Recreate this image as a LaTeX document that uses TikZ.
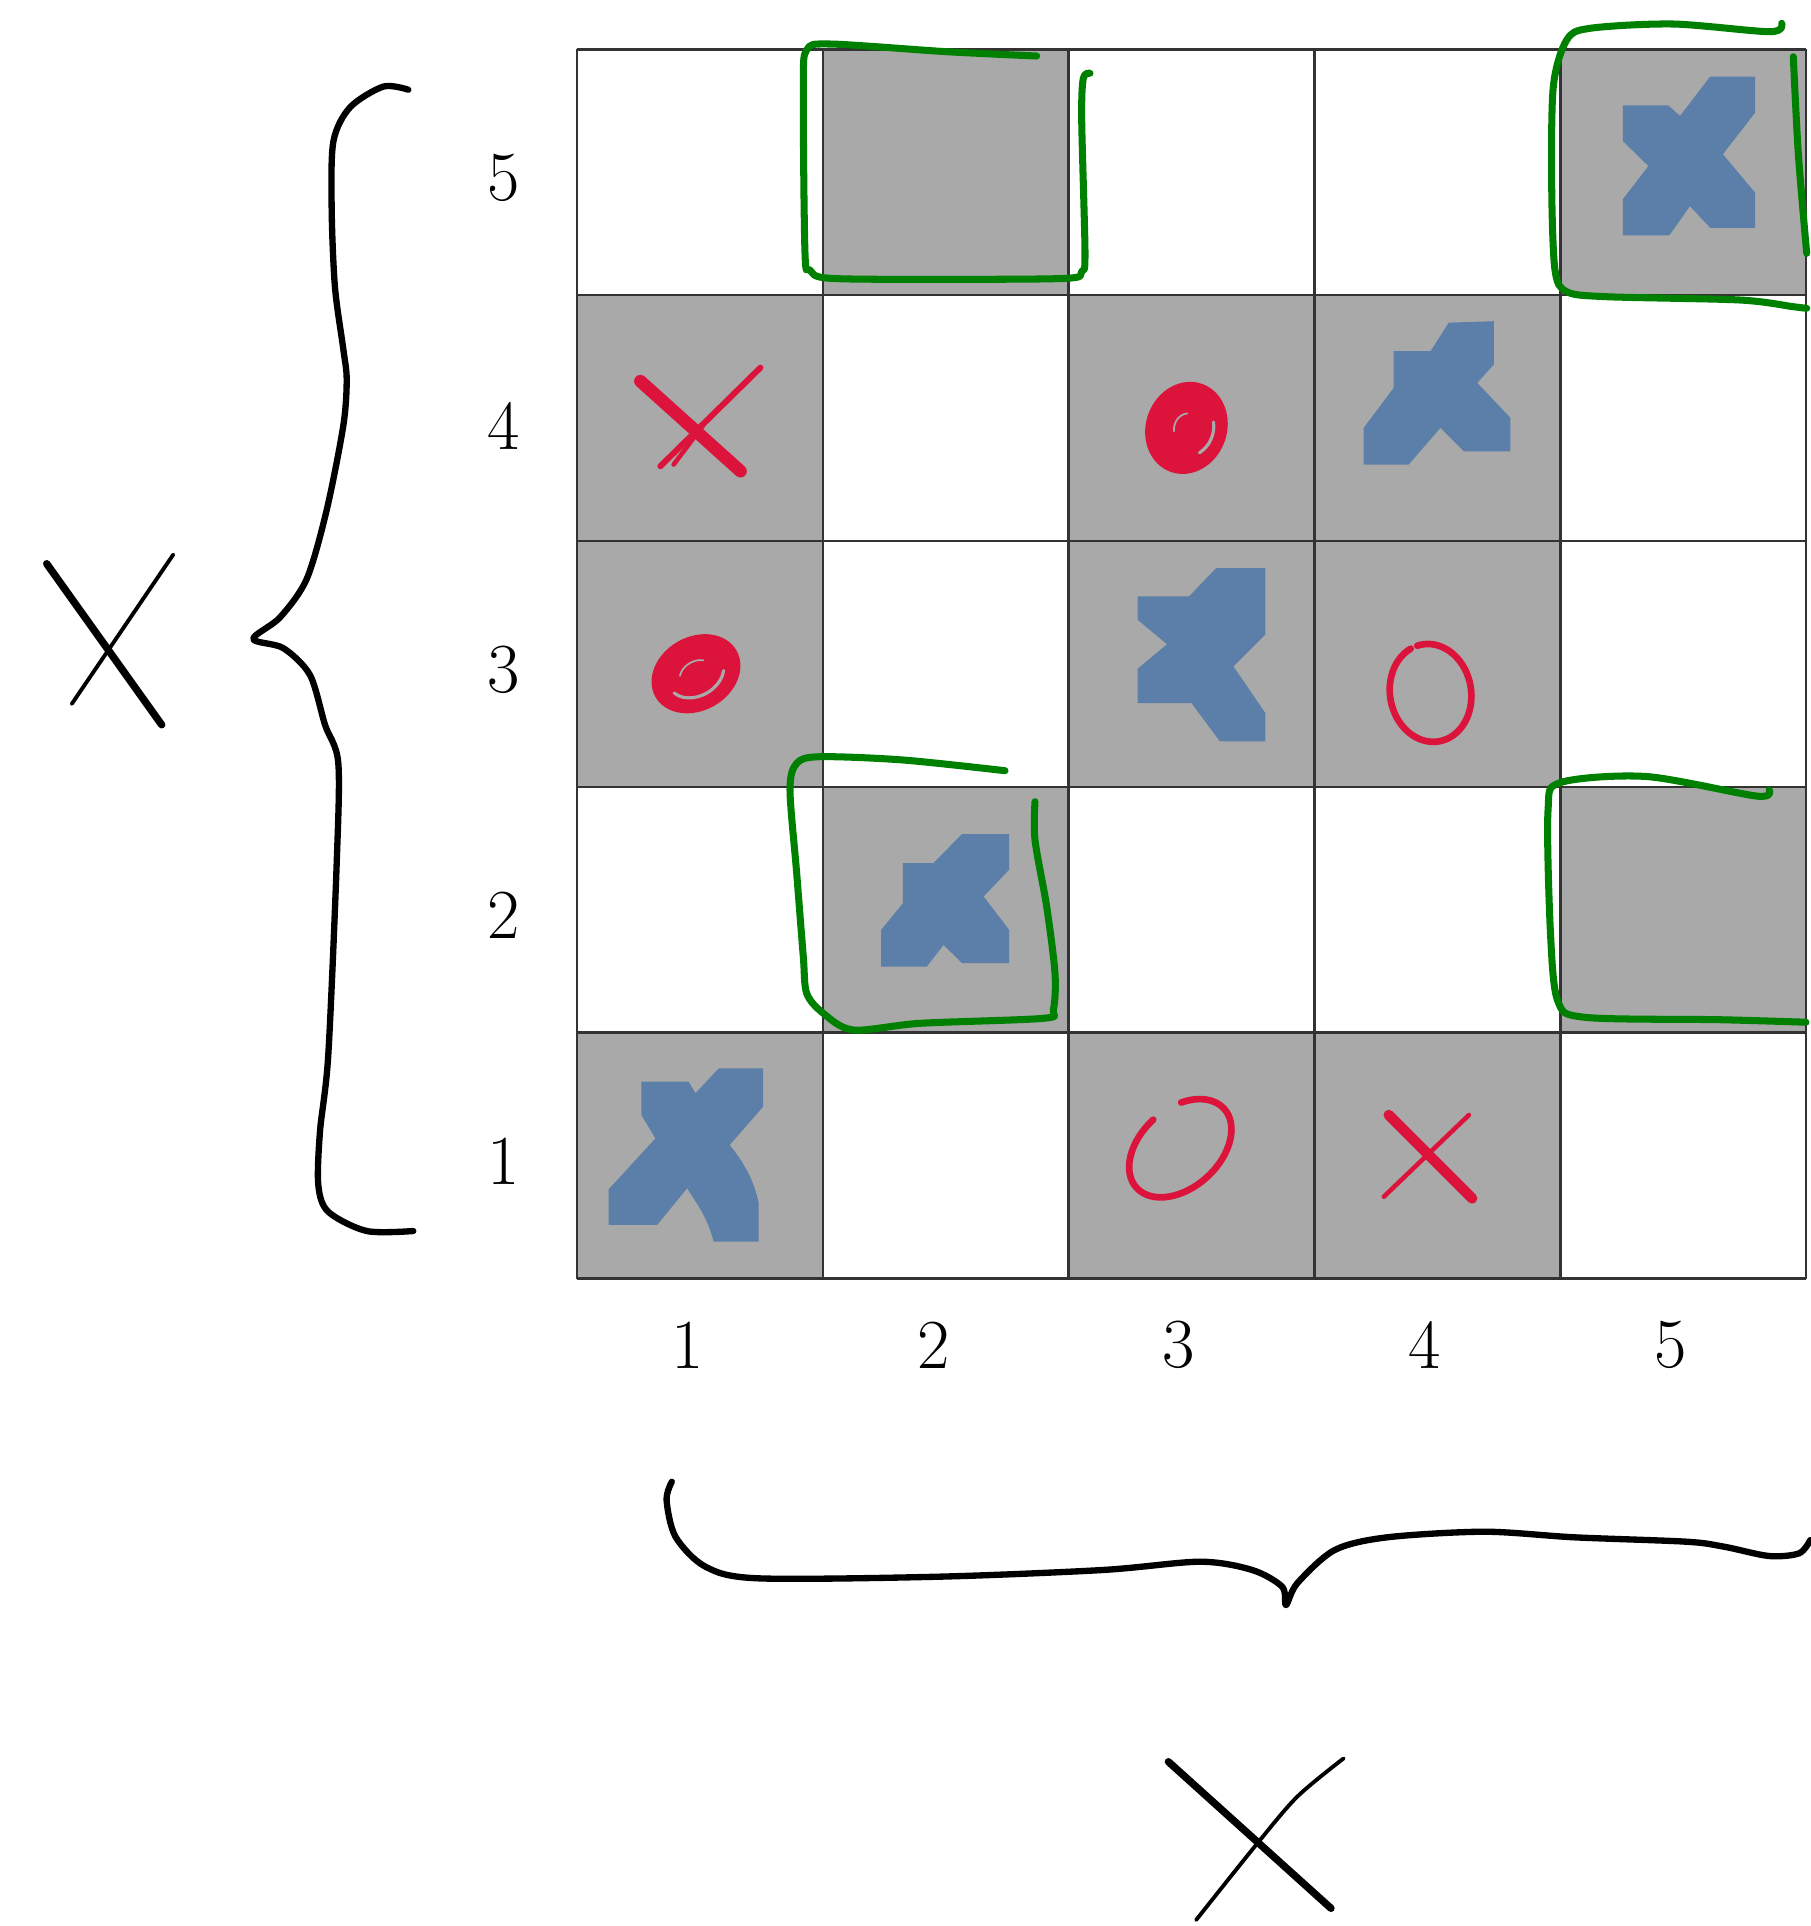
\documentclass[tikz,border=0pt]{standalone}
\definecolor{cellgray}{HTML}{A9A9A9}
\definecolor{bluex}{HTML}{5B7FA8}
\definecolor{redc}{HTML}{DC143C}
\definecolor{greenc}{HTML}{008000}
\tikzset{
  gridline/.style={draw=black!80, line width=0.7pt},
  graycell/.style={fill=cellgray},
  bluemark/.style={fill=bluex},
  redstroke/.style={draw=redc, line cap=round, line join=round},
  greenloop/.style={draw=greenc, line width=2pt, line cap=round, line join=round},
  inkline/.style={draw=black, line cap=round, line join=round},
  lbl/.style={font=\fontsize{20}{24}\selectfont, inner sep=0pt},
}
\begin{document}
\begin{tikzpicture}[x=0.01cm, y=-0.01cm]
\useasboundingbox (0,0) rectangle (1811,1926);

% ---------------- grid ----------------
\begin{scope}[shift={(577,1278.5)}, x=2.457cm, y=2.457cm]
  \foreach \i/\j in {2/5,5/5,1/4,3/4,4/4,1/3,3/3,4/3,2/2,5/2,1/1,3/1,4/1}
    \fill[graycell] (\i-1,\j-1) rectangle (\i,\j);
  \foreach \k in {0,...,5} {
    \draw[gridline] (\k,0) -- (\k,5);
    \draw[gridline] (0,\k) -- (5,\k);
  }

  % blue marks
  \begin{scope}[shift={(4,4)}]
    \fill[bluemark] (0.254,0.772) -- (0.439,0.772) -- (0.487,0.729) -- (0.609,0.889) -- (0.792,0.889)
      -- (0.792,0.742) -- (0.661,0.573) -- (0.792,0.417) -- (0.792,0.274) -- (0.609,0.274)
      -- (0.527,0.362) -- (0.443,0.243) -- (0.254,0.243) -- (0.254,0.390) -- (0.358,0.525)
      -- (0.254,0.627) -- cycle;
  \end{scope}
  \begin{scope}[shift={(0,0)}]
    \fill[bluemark] (0.262,0.801) -- (0.454,0.801) -- (0.482,0.754) -- (0.577,0.855) -- (0.757,0.855)
      -- (0.757,0.699) -- (0.621,0.543) .. controls (0.68,0.47) and (0.72,0.40) .. (0.739,0.306)
      -- (0.739,0.150) -- (0.556,0.150) .. controls (0.53,0.25) and (0.49,0.30) .. (0.448,0.367)
      -- (0.326,0.218) -- (0.129,0.218) -- (0.129,0.363) -- (0.319,0.570) -- (0.262,0.665) -- cycle;
  \end{scope}
  \begin{scope}[shift={(3,3)}]
    \fill[bluemark] (0.322,0.772) -- (0.472,0.772) -- (0.546,0.888) -- (0.729,0.894) -- (0.729,0.718)
      -- (0.662,0.643) -- (0.797,0.501) -- (0.797,0.365) -- (0.607,0.365) -- (0.512,0.460)
      -- (0.383,0.311) -- (0.200,0.311) -- (0.200,0.460) -- (0.322,0.623) -- cycle;
  \end{scope}
  \begin{scope}[shift={(1,1)}]
    \fill[bluemark] (0.326,0.690) -- (0.450,0.690) -- (0.566,0.808) -- (0.758,0.808) -- (0.758,0.663)
      -- (0.654,0.554) -- (0.758,0.418) -- (0.758,0.283) -- (0.566,0.283) -- (0.491,0.357)
      -- (0.423,0.269) -- (0.237,0.269) -- (0.237,0.418) -- (0.326,0.527) -- cycle;
  \end{scope}
  \begin{scope}[shift={(2,2)}]
    \fill[bluemark] (0.28,0.775) -- (0.49,0.775) -- (0.60,0.89) -- (0.80,0.89) -- (0.80,0.62)
      -- (0.67,0.49) -- (0.80,0.30) -- (0.80,0.185) -- (0.615,0.185) -- (0.50,0.34)
      -- (0.28,0.34) -- (0.28,0.48) -- (0.40,0.58) -- (0.28,0.68) -- cycle;
  \end{scope}

  % red crosses
  \draw[redstroke, line width=3.6pt] (0.258,3.650) -- (0.665,3.284);
  \draw[redstroke, line width=1.7pt] (0.746,3.705) -- (0.339,3.304);
  \draw[redstroke, line width=1.3pt] (0.516,3.474) -- (0.393,3.311);
  \draw[redstroke, line width=3.0pt] (3.302,0.665) -- (3.641,0.326);
  \draw[redstroke, line width=1.3pt] (3.628,0.665) -- (3.282,0.333);

  % red rings
  \draw[redstroke, line width=1.9pt, shift={(2.454,0.530)}, rotate=42]
    (91:0.24 and 0.16) arc[start angle=91, end angle=418, x radius=0.24, y radius=0.16];
  \draw[redstroke, line width=1.9pt, shift={(3.472,2.382)}, rotate=10]
    (107:0.165 and 0.2) arc[start angle=107, end angle=457, x radius=0.165, y radius=0.2];

  % red filled scribbles
  \begin{scope}[shift={(0.484,2.460)}, rotate=30]
    \fill[redc] (0,0) ellipse [x radius=0.19, y radius=0.15];
    \draw[cellgray, line width=0.9pt, line cap=round] (195:0.12 and 0.09) arc[start angle=195, end angle=330, x radius=0.12, y radius=0.09];
    \draw[cellgray, line width=0.5pt, line cap=round] (40:0.07 and 0.05) arc[start angle=40, end angle=150, x radius=0.07, y radius=0.05];
  \end{scope}
  \begin{scope}[shift={(2.479,3.460)}, rotate=70]
    \fill[redc] (0,0) ellipse [x radius=0.19, y radius=0.165];
    \draw[cellgray, line width=0.9pt, line cap=round] (230:0.12 and 0.11) arc[start angle=230, end angle=300, x radius=0.12, y radius=0.11];
    \draw[cellgray, line width=0.5pt, line cap=round] (20:0.06 and 0.05) arc[start angle=20, end angle=120, x radius=0.06, y radius=0.05];
  \end{scope}
\end{scope}

% ---------------- labels ----------------
\node[lbl] (r5) at (504,178) {5};
\node[lbl] (r4) at (504,426) {4};
\node[lbl] (r3) at (504,670) {3};
\node[lbl] (r2) at (504,915) {2};
\node[lbl] (r1) at (504,1161) {1};
\node[lbl] (c1) at (688,1345) {1};
\node[lbl] (c2) at (934,1345) {2};
\node[lbl] (c3) at (1179,1345) {3};
\node[lbl] (c4) at (1425,1345) {4};
\node[lbl] (c5) at (1671,1345) {5};

% ---------------- green loops ----------------
\draw[greenloop] plot[smooth, tension=0.5] coordinates {(1036.7,56) (946.7,51.7) (830,44) (806.7,50) (803.3,86.7) (805,253.3) (810,270) (830,278.3) (946.7,279.3) (1066.7,278.3) (1081.7,271.7) (1085,253.3) (1081.7,120) (1083.3,78.3) (1090,73.3)};
\draw[greenloop] plot[smooth, tension=0.5] coordinates {(1781.7,23.3) (1770,31.7) (1673.3,24) (1590,28.3) (1566.7,40) (1553.3,86.7) (1551.7,186.7) (1555,270) (1566.7,291.7) (1606.7,296.7) (1740,300) (1793.3,306.7) (1806.7,308.3)};
\draw[greenloop] plot[smooth, tension=0.5] coordinates {(1806.7,253.3) (1798.3,153.3) (1793.3,56.7)};
\draw[greenloop] plot[smooth, tension=0.5] coordinates {(1005,770.7) (903.3,760) (820,756.7) (796.7,763.3) (790,790) (796.7,873.3) (803.3,956.7) (806.7,993.3) (823.3,1013.3) (853.3,1030) (920,1023.3) (1043.3,1018.3) (1053.3,1010) (1055,973.3) (1046.7,906.7) (1035,840) (1035,801.7)};
\draw[greenloop] plot[smooth, tension=0.5] coordinates {(1769.2,790) (1756.9,796.1) (1646.3,776.5) (1560.3,782.6) (1548,810.9) (1550.5,933.7) (1557.9,1001.3) (1584.9,1017.3) (1720,1019.7) (1806,1022.2)};

% ---------------- braces ----------------
\draw[inkline, line width=1.8pt] plot[smooth, tension=0.5] coordinates {(408.3,89.7) (383.3,86.6) (350,107.4) (333.3,141.9) (331.7,210.9) (335,287.6) (343.3,349) (346.7,379.6) (343.3,425.7) (326.7,510) (306.7,579) (280,617.4) (253.3,638.9) (283.3,648.1) (310,675) (325,724.8) (338.3,763.1) (336.7,863) (328.3,1054.6) (320,1131.3) (318.3,1185) (328.3,1211.8) (366.7,1231) (413.3,1231)};
\draw[inkline, line width=1.8pt] plot[smooth, tension=0.5] coordinates {(671.8,1481.7) (666.6,1500) (675.5,1536.7) (705.5,1566.7) (758,1578.3) (937.7,1576.7) (1102.5,1570) (1199.9,1561.7) (1252.3,1570) (1282.2,1586.7) (1286,1605) (1297.2,1583.3) (1334.7,1550) (1387.1,1537.3) (1484.5,1531.7) (1574.3,1537.3) (1686.7,1541.7) (1724.2,1546.7) (1769.1,1556) (1799.1,1553.3) (1810.3,1540)};

% ---------------- big X marks ----------------
\draw[inkline, line width=2.1pt] (46.7,563.7) -- (161.7,724.8);
\draw[inkline, line width=1.1pt] (173.3,554.5) -- (71.7,704);
\draw[inkline, line width=2.1pt] (1168.4,1761.7) -- (1331,1908.3);
\draw[inkline, line width=1.1pt] plot[smooth] coordinates {(1343.7,1758.3) (1297.2,1796.7) (1256,1845) (1196.1,1920)};
\end{tikzpicture}
\end{document}
